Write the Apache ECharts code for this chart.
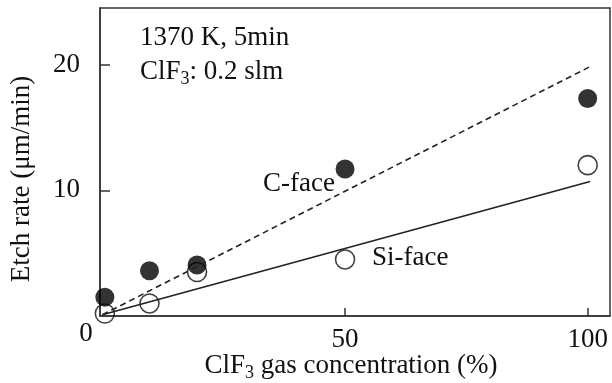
<!DOCTYPE html>
<html>
<head>
<meta charset="utf-8">
<script src="https://cdn.jsdelivr.net/npm/echarts@6/dist/echarts.min.js"></script>
<style>
  html, body { margin: 0; padding: 0; background: #fff; }
  #chart { width: 612px; height: 383px; }
</style>
</head>
<body>
<div id="chart"></div>
<script>
// ClF3 concentration (%) and measured etch rates (µm/min)
const concentration = [0.5, 9.7, 19.5, 50, 100];
const cFaceRate = [1.5, 3.6, 4.05, 11.7, 17.3];
const siFaceRate = [0.2, 1.0, 3.5, 4.5, 12.0];

// Linear guide lines (start and end points)
const cFaceFit = [[0, 0.1], [100.3, 19.8]];
const siFaceFit = [[0, 0.1], [100.5, 10.7]];

// Tick labels
const xTicks = [50, 100];
const yTicks = [10, 20];
const originLabel = '0';

const FONT = "'Liberation Serif', 'Times New Roman', serif";
const INK = '#111';
const AXIS = '#333';

const chart = echarts.init(document.getElementById('chart'));

chart.setOption({
  animation: false,
  backgroundColor: '#fff',
  grid: {
    left: 100, right: 2, top: 8, bottom: 67,
    show: true, borderColor: AXIS, borderWidth: 1.5
  },
  xAxis: {
    type: 'value',
    min: -0.5, max: 104.6,
    axisLine: { show: true, onZero: false, lineStyle: { color: AXIS, width: 1.5 } },
    axisTick: { show: true, inside: true, length: 8, customValues: xTicks,
                lineStyle: { color: AXIS, width: 1.5 } },
    axisLabel: { customValues: xTicks, margin: 10, color: INK,
                 fontFamily: FONT, fontSize: 27 },
    splitLine: { show: false }
  },
  yAxis: {
    type: 'value',
    min: 0, max: 24.5,
    axisLine: { show: true, onZero: false, lineStyle: { color: AXIS, width: 1.5 } },
    axisTick: { show: true, inside: true, length: 10, customValues: yTicks,
                lineStyle: { color: AXIS, width: 1.5 } },
    axisLabel: { customValues: yTicks, margin: 20, color: INK,
                 fontFamily: FONT, fontSize: 27 },
    splitLine: { show: false }
  },
  series: [
    {
      name: 'C-face fit', type: 'line', data: cFaceFit,
      showSymbol: false, silent: true,
      lineStyle: { color: '#222', width: 1.6, type: [6, 4] }
    },
    {
      name: 'Si-face fit', type: 'line', data: siFaceFit,
      showSymbol: false, silent: true,
      lineStyle: { color: '#222', width: 1.6 }
    },
    {
      name: 'Si-face', type: 'scatter',
      data: concentration.map((c, i) => [c, siFaceRate[i]]),
      symbol: 'circle', symbolSize: 19,
      itemStyle: { color: 'rgba(255,255,255,0)', borderColor: '#111', borderWidth: 1.6 }
    },
    {
      name: 'C-face', type: 'scatter',
      data: concentration.map((c, i) => [c, cFaceRate[i]]),
      symbol: 'circle', symbolSize: 19,
      itemStyle: { color: '#000' }
    }
  ],
  graphic: [
    {
      type: 'text', x: 86, y: 334,
      style: { text: originLabel, font: `27px ${FONT}`, fill: INK,
               align: 'center', verticalAlign: 'middle' }
    },
    {
      type: 'text', x: 140, y: 38,
      style: { text: '1370 K, 5min', font: `27px ${FONT}`, fill: INK,
               align: 'left', verticalAlign: 'middle' }
    },
    {
      type: 'text', x: 140, y: 72,
      style: {
        text: 'ClF{s|3}: 0.2 slm', font: `27px ${FONT}`, fill: INK,
        align: 'left', verticalAlign: 'middle',
        rich: { s: { font: `18px ${FONT}`, fill: INK, padding: [14, 0, 0, 0] } }
      }
    },
    {
      type: 'text', x: 263, y: 184,
      style: { text: 'C-face', font: `27px ${FONT}`, fill: INK,
               align: 'left', verticalAlign: 'middle' }
    },
    {
      type: 'text', x: 372, y: 258,
      style: { text: 'Si-face', font: `27px ${FONT}`, fill: INK,
               align: 'left', verticalAlign: 'middle' }
    },
    {
      type: 'text', x: 351, y: 366,
      style: {
        text: 'ClF{s|3} gas concentration (%)', font: `27px ${FONT}`, fill: INK,
        align: 'center', verticalAlign: 'middle',
        rich: { s: { font: `18px ${FONT}`, fill: INK, padding: [14, 0, 0, 0] } }
      }
    },
    {
      type: 'text', x: 22, y: 179, rotation: Math.PI / 2,
      style: { text: 'Etch rate (μm/min)', font: `27px ${FONT}`, fill: INK,
               align: 'center', verticalAlign: 'middle' }
    }
  ]
});
</script>
</body>
</html>
